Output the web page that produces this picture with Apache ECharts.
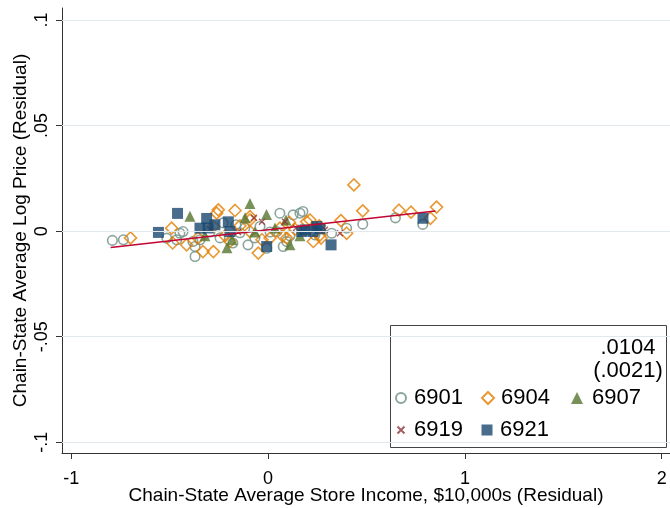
<!DOCTYPE html>
<html>
<head>
<meta charset="utf-8">
<script src="https://cdn.jsdelivr.net/npm/echarts@6/dist/echarts.min.js"></script>
<style>html,body{margin:0;padding:0;background:#fff}#c{width:670px;height:508px}</style>
</head>
<body>
<div id="c"></div>
<script>
// ---- data (x: income residual, y: log price residual) ----
const s6901 = [[-0.791,-0.0044],[-0.735,-0.0041],[-0.515,-0.0033],[-0.464,-0.0041],[-0.448,-0.0010],[-0.432,-0.0002],[-0.382,-0.0049],[-0.371,-0.0073],[-0.371,-0.0120],[-0.346,-0.0041],[-0.295,-0.0004],[-0.244,-0.0032],[-0.229,0.0039],[-0.179,-0.0056],[-0.163,0.0030],[-0.143,-0.0008],[-0.118,0.0015],[-0.102,-0.0065],[-0.067,-0.0032],[-0.041,0.0022],[-0.007,-0.0081],[0.010,-0.0004],[0.044,-0.0002],[0.060,0.0085],[0.077,-0.0073],[0.095,-0.0049],[0.111,-0.0022],[0.127,0.0077],[0.162,0.0085],[0.177,0.0093],[0.238,-0.0018],[0.323,-0.0010],[0.399,0.0014],[0.481,0.0033],[0.647,0.0063],[0.786,0.0032]];
const s6904 = [[-0.699,-0.0032],[-0.490,0.0014],[-0.485,-0.0056],[-0.414,-0.0065],[-0.356,-0.0032],[-0.331,-0.0097],[-0.278,0.0022],[-0.278,-0.0097],[-0.261,0.0085],[-0.253,0.0101],[-0.219,-0.0022],[-0.194,-0.0049],[-0.168,0.0098],[-0.143,0.0025],[-0.092,0.0069],[-0.092,0.0053],[-0.092,-0.0002],[-0.050,-0.0104],[-0.031,-0.0041],[0.010,-0.0033],[0.060,0.0014],[0.074,-0.0022],[0.095,-0.0033],[0.108,0.0042],[0.137,0.0009],[0.196,0.0045],[0.213,0.0053],[0.230,-0.0049],[0.264,-0.0018],[0.260,0.0025],[0.269,-0.0033],[0.370,0.0050],[0.399,-0.0010],[0.436,0.0219],[0.481,0.0096],[0.665,0.0099],[0.726,0.0090],[0.825,0.0061],[0.856,0.0114]];
const s6907 = [[-0.397,0.0070],[-0.321,-0.0022],[-0.209,-0.0079],[-0.183,-0.0041],[-0.117,0.0063],[-0.092,0.0131],[-0.067,-0.0004],[-0.008,0.0079],[0.035,0.0015],[0.091,0.0053],[0.111,-0.0065],[0.162,-0.0022]];
const s6919 = [[-0.295,0.0011],[-0.153,-0.0004],[-0.072,0.0063],[-0.031,0.0044],[0.086,0.0044],[0.142,0.0015],[0.238,0.0025],[0.289,0.0006],[0.365,-0.0010]];
const s6921 = [[-0.557,-0.0006],[-0.460,0.0084],[-0.346,0.0014],[-0.312,0.0060],[-0.305,0.0015],[-0.270,0.0030],[-0.202,0.0044],[-0.194,-0.0002],[-0.007,-0.0073],[0.171,-0.0002],[0.188,0.0006],[0.228,-0.0002],[0.247,0.0022],[0.264,0.0011],[0.320,-0.0065],[0.787,0.0061]];
const fitX = [-0.80, 0.85];
const fitY = [-0.0077, 0.0095];
const xTicks = [-1, 0, 1, 2];
const yTicks = [-0.1, -0.05, 0, 0.05, 0.1];
const yTickLabels = ['-.1', '-.05', '0', '.05', '.1'];
const coefText = ['.0104', '(.0021)'];

const FONT = 'Liberation Sans, Arial, sans-serif';
const C = {teal:'#6e8e84', orange:'#e37e00', green:'#55752f', maroon:'#90353b', navy:'#1a476f', fit:'#c10534'};

const chart = echarts.init(document.getElementById('c'), null, {renderer:'canvas'});
const crossPath = 'path://M0,0L10,10M10,0L0,10';

function legendAt(name, iconCx, top, size, textStart){
  const left = iconCx - size/2;
  const pad = Math.max(0, textStart - (left + size + 5));
  return {data:[name], left:left, top:top, padding:0, itemWidth:size, itemHeight:size,
    textStyle:{fontFamily:FONT, fontSize:22, color:'#000', padding:[0,0,0,pad]}, selectedMode:false};
}

chart.setOption({
  animation:false,
  backgroundColor:'#fff',
  grid:{left:62, right:0, top:8, bottom:55, outerBoundsMode:'none', containLabel:false},
  xAxis:{type:'value', min:-1.047, max:2.042,
    name:'Chain-State Average Store Income, $10,000s (Residual)', nameLocation:'middle', nameGap:33,
    nameMoveOverlap:false,
    nameTextStyle:{fontFamily:FONT, fontSize:19, color:'#000'},
    axisLine:{show:true, onZero:false, lineStyle:{color:'#333', width:1}},
    axisTick:{show:true, length:6, customValues:xTicks, lineStyle:{color:'#333'}},
    axisLabel:{customValues:xTicks, fontFamily:FONT, fontSize:18, color:'#000', margin:17,
      formatter:v=>String(v)},
    splitLine:{show:false}},
  yAxis:{type:'value', min:-0.1051, max:0.1057,
    name:'Chain-State Average Log Price (Residual)', nameLocation:'middle', nameGap:32, nameRotate:90,
    nameMoveOverlap:false,
    nameTextStyle:{fontFamily:FONT, fontSize:19, color:'#000'},
    axisLine:{show:true, onZero:false, lineStyle:{color:'#333', width:1}},
    axisTick:{show:true, length:6, customValues:yTicks, lineStyle:{color:'#333'}},
    axisLabel:{customValues:yTicks, rotate:90, fontFamily:FONT, fontSize:18, color:'#000', margin:11,
      formatter:v=>{const i=yTicks.findIndex(t=>Math.abs(t-v)<1e-9);return i>=0?yTickLabels[i]:'';}},
    splitLine:{show:false}},
  legend:[legendAt('6901',400,387,10,413), legendAt('6904',487,387,12,500), legendAt('6907',577,387,12,592),
          legendAt('6919',400,419,7,413), legendAt('6921',487,419,11,500)],
  graphic:[
    {type:'rect', z:-1, zlevel:0, shape:{x:390.5, y:325.5, width:276, height:122},
      style:{fill:'#fff', stroke:'#444', lineWidth:1}},
    {type:'text', z:10, x:628, y:348, style:{text:coefText[0], font:'22px '+FONT, fill:'#000', align:'center', verticalAlign:'middle'}},
    {type:'text', z:10, x:628, y:371, style:{text:coefText[1], font:'22px '+FONT, fill:'#000', align:'center', verticalAlign:'middle'}}
  ],
  series:[
    {type:'scatter', name:'grid', data:[], z:0, silent:true,
      markLine:{silent:true, symbol:'none', label:{show:false}, animation:false,
        lineStyle:{color:'#e1e9ec', width:1, type:'solid'},
        data:yTicks.map(v=>({yAxis:v}))}},
    {type:'scatter', name:'6901', data:s6901, symbol:'circle', symbolSize:9.5, z:2,
      itemStyle:{color:'rgba(0,0,0,0)', borderColor:C.teal, borderWidth:1.6}},
    {type:'scatter', name:'6904', data:s6904, symbol:'diamond', symbolSize:12, z:2,
      itemStyle:{color:'rgba(0,0,0,0)', borderColor:C.orange, borderWidth:1.6}},
    {type:'scatter', name:'6907', data:s6907, symbol:'triangle', symbolSize:11, z:2,
      itemStyle:{color:C.green}},
    {type:'scatter', name:'6919', data:s6919, symbol:crossPath, symbolSize:6, z:2,
      itemStyle:{color:'rgba(0,0,0,0)', borderColor:C.maroon, borderWidth:1.4}},
    {type:'scatter', name:'6921', data:s6921, symbol:'rect', symbolSize:11, z:2,
      itemStyle:{color:C.navy}},
    {type:'line', name:'fit', data:fitX.map((x,i)=>[x,fitY[i]]), symbol:'none', z:3,
      lineStyle:{color:C.fit, width:1.5}}
  ]
});
</script>
</body>
</html>
